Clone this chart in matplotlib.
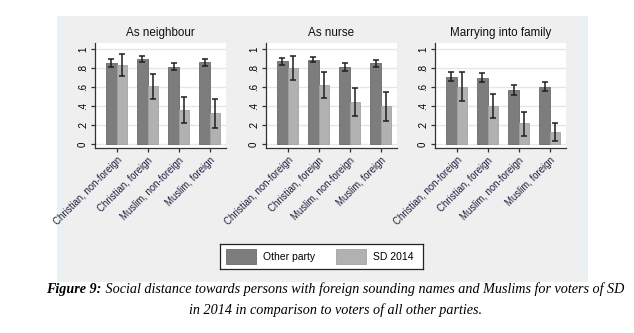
import matplotlib
matplotlib.use("Agg")
import matplotlib.pyplot as plt
from matplotlib.patches import Rectangle
import numpy as np

plt.rcParams['font.family'] = ['Liberation Sans', 'DejaVu Sans']

categories = ["Christian, non-foreign", "Christian, foreign",
              "Muslim, non-foreign", "Muslim, foreign"]
panels = ["As neighbour", "As nurse", "Marrying into family"]
series = ["Other party", "SD 2014"]

# mean share and 95% confidence bounds, per panel
other_mean = [[0.852, 0.890, 0.813, 0.859],
              [0.869, 0.887, 0.806, 0.848],
              [0.710, 0.696, 0.572, 0.604]]
other_lo = [[0.81, 0.859, 0.774, 0.823],
            [0.83, 0.859, 0.767, 0.813],
            [0.668, 0.650, 0.519, 0.558]]
other_hi = [[0.89, 0.926, 0.855, 0.894],
            [0.90, 0.919, 0.848, 0.887],
            [0.756, 0.746, 0.622, 0.654]]
sd_mean = [[0.834, 0.615, 0.360, 0.325],
           [0.802, 0.625, 0.442, 0.396],
           [0.601, 0.403, 0.219, 0.124]]
sd_lo = [[0.714, 0.477, 0.219, 0.170],
         [0.675, 0.488, 0.290, 0.244],
         [0.452, 0.269, 0.088, 0.028]]
sd_hi = [[0.943, 0.742, 0.491, 0.473],
         [0.922, 0.760, 0.590, 0.544],
         [0.753, 0.530, 0.336, 0.219]]

yticks = [0, 0.2, 0.4, 0.6, 0.8, 1.0]
ytick_labels = ["0", ".2", ".4", ".6", ".8", "1"]

W, H = 634, 333
fig = plt.figure(figsize=(W / 100, H / 100), dpi=100)
fig.patch.set_facecolor("white")

# graph region background, drawn in an axes spanning the whole figure
bg = fig.add_axes([0, 0, 1, 1], zorder=-10)
bg.set_xlim(0, W); bg.set_ylim(H, 0); bg.axis("off")
bg.add_patch(Rectangle((57, 16), 531, 266, facecolor="#EAF1F3", edgecolor="none"))
bg.add_patch(Rectangle((63, 16), 519, 266, facecolor="#EFEFEF", edgecolor="none"))

dark = "#7D7D7D"
light = "#B1B1B1"
bw = 0.34
x = np.arange(len(categories))
lefts = [95, 266, 435]
pw = 131
top, bottom = 43, 148

for p, name in enumerate(panels):
    ax = fig.add_axes([lefts[p] / W, 1 - bottom / H, pw / W, (bottom - top) / H])
    ax.set_facecolor("white")
    ax.set_axisbelow(True)
    for yv in yticks:
        ax.axhline(yv, color="#E6E6E6", lw=1.0, zorder=0)
    om = np.array(other_mean[p]); sm = np.array(sd_mean[p])
    ax.bar(x - bw / 2, om, bw, color=dark, edgecolor="#6A6A6A", lw=0.6, zorder=2)
    ax.bar(x + bw / 2, sm, bw, color=light, edgecolor="#A2A2A2", lw=0.6, zorder=2)
    ax.errorbar(x - bw / 2, om,
                yerr=[om - np.array(other_lo[p]), np.array(other_hi[p]) - om],
                fmt="none", ecolor="#1E1E1E", elinewidth=1.1, capsize=2.3,
                capthick=1.1, zorder=3)
    ax.errorbar(x + bw / 2, sm,
                yerr=[sm - np.array(sd_lo[p]), np.array(sd_hi[p]) - sm],
                fmt="none", ecolor="#1E1E1E", elinewidth=1.1, capsize=2.3,
                capthick=1.1, zorder=3)
    ax.set_xlim(-0.70, 3.52)
    ax.set_ylim(-0.042, 1.063)
    ax.set_yticks(yticks)
    ax.set_yticklabels(ytick_labels, rotation=90, va="center", fontsize=7)
    ax.set_xticks(x)
    ax.set_xticklabels(categories, rotation=45, ha="right",
                       rotation_mode="anchor", fontsize=6.9, color="#1F1F3F")
    for s in ["top", "right"]:
        ax.spines[s].set_visible(False)
    for s in ["left", "bottom"]:
        ax.spines[s].set_color("#333333")
        ax.spines[s].set_linewidth(0.9)
    ax.tick_params(axis="both", length=3, width=0.9, color="#333333", pad=2)
    ax.set_title(name, fontsize=8.4, pad=5, color="#111111")

# legend
lax = fig.add_axes([220 / W, 1 - 269 / H, (423 - 220) / W, (269 - 244) / H])
lax.set_xlim(220, 423); lax.set_ylim(269, 244)
lax.set_xticks([]); lax.set_yticks([])
for s in lax.spines.values():
    s.set_color("#222222"); s.set_linewidth(0.9)
lax.add_patch(Rectangle((226, 249), 30, 15, facecolor=dark, edgecolor="#6A6A6A", lw=0.6))
lax.text(263, 256.5, series[0], fontsize=7.5, va="center", ha="left")
lax.add_patch(Rectangle((336, 249), 30, 15, facecolor=light, edgecolor="#A2A2A2", lw=0.6))
lax.text(373, 256.5, series[1], fontsize=7.5, va="center", ha="left")

# caption, centred on the page column
cap1_bold = "Figure 9:"
cap1 = " Social distance towards persons with foreign sounding names and Muslims for voters of SD"
cap2 = "in 2014 in comparison to voters of all other parties."
serif = ["Liberation Serif", "DejaVu Serif"]
fs = 10.2
cx = 335
t1 = fig.text(0.5, 0.5, cap1_bold, fontsize=fs, family=serif, style="italic", weight="bold")
t2 = fig.text(0.5, 0.5, cap1, fontsize=fs, family=serif, style="italic")
fig.canvas.draw()
r = fig.canvas.get_renderer()
w1 = t1.get_window_extent(r).width
w2 = t2.get_window_extent(r).width
x0 = cx - (w1 + w2) / 2
t1.set_position((x0 / W, 1 - 293 / H))
t2.set_position(((x0 + w1) / W, 1 - 293 / H))
fig.text(cx / W, 1 - 314 / H, cap2, fontsize=fs, family=serif, style="italic", ha="center")

fig.savefig("out.png", dpi=100)
